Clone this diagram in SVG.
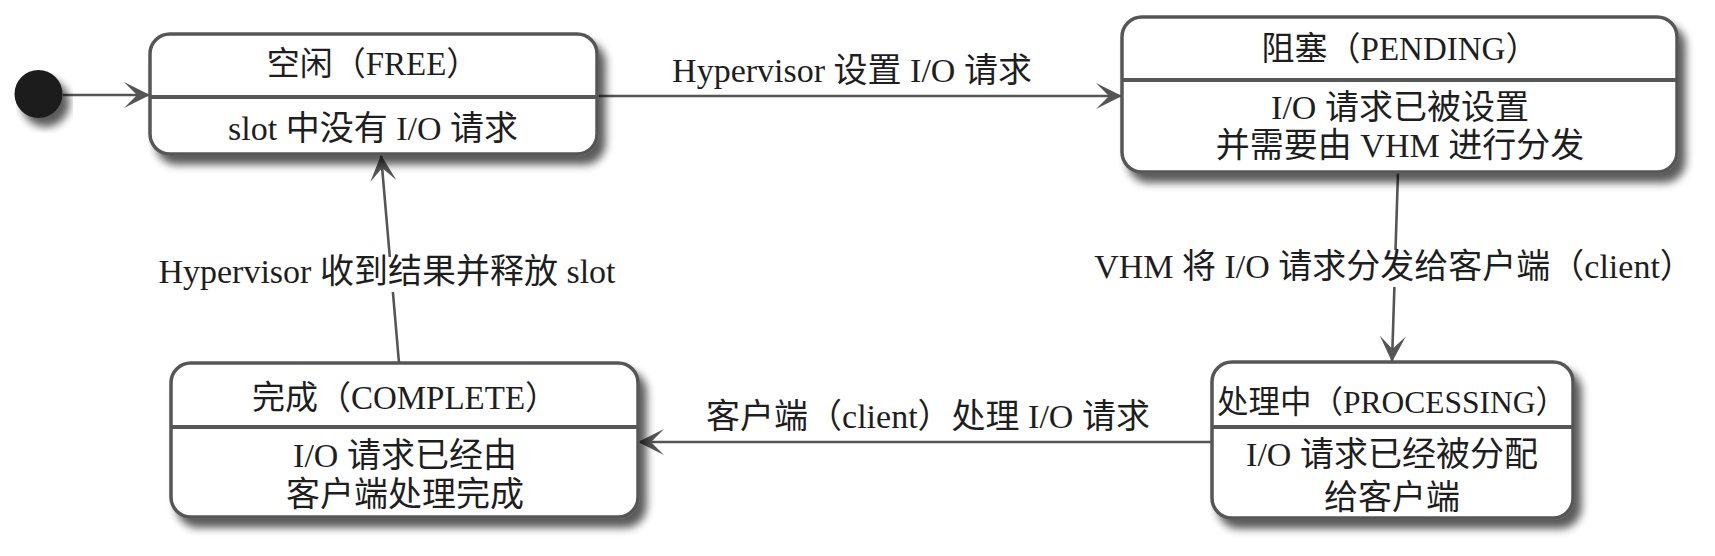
<svg xmlns="http://www.w3.org/2000/svg" width="1715" height="556" viewBox="0 0 1715 556">
<style>
.box{fill:#ffffff;stroke:#575757;stroke-width:3.5}
.div{stroke:#575757;stroke-width:4}
.t{font-family:"Liberation Serif","Noto Sans CJK SC",serif;font-size:33px;fill:#1e1e1e;text-anchor:middle}
.b{font-family:"Liberation Serif","Noto Sans CJK SC",serif;font-size:34px;fill:#1e1e1e;text-anchor:middle}
.lbl{font-family:"Liberation Serif","Noto Sans CJK SC",serif;font-size:34px;fill:#1e1e1e;text-anchor:middle}
.edge{fill:none;stroke:#555555;stroke-width:2.6}
</style>
<defs>
<filter id="sh" x="-10%" y="-10%" width="130%" height="140%">
<feGaussianBlur in="SourceAlpha" stdDeviation="4"/>
<feOffset dx="7" dy="9" result="b"/>
<feComponentTransfer><feFuncA type="linear" slope="0.65"/></feComponentTransfer>
<feMerge><feMergeNode/><feMergeNode in="SourceGraphic"/></feMerge>
</filter>
<marker id="arr" viewBox="0 0 26 26" refX="26" refY="13" markerWidth="26" markerHeight="26" markerUnits="userSpaceOnUse" orient="auto">
<path d="M0,0 L26,13 L0,26 L13,13 Z" fill="#555555"/>
</marker>
</defs>
<rect width="1715" height="556" fill="#ffffff"/>

<g id="connectors">
<path class="edge" d="M63,95 L150,95" marker-end="url(#arr)"/>
<path class="edge" d="M597,96 L1122,96" marker-end="url(#arr)"/>
<path class="edge" d="M1398,172 L1395.5,250 M1394.4,287 L1392,362" marker-end="url(#arr)"/>
<path class="edge" d="M1212,442 L638,442" marker-end="url(#arr)"/>
<path class="edge" d="M399,363 L392.9,292 M389.8,257 L381,155" marker-end="url(#arr)"/>
<text class="lbl" x="852" y="82">Hypervisor 设置 I/O 请求</text>
<text class="lbl" x="1394" y="278">VHM 将 I/O 请求分发给客户端（client）</text>
<text class="lbl" x="928" y="428">客户端（client）处理 I/O 请求</text>
<text class="lbl" x="387" y="283">Hypervisor 收到结果并释放 slot</text>
</g>

<g id="initial">
<circle cx="38.5" cy="94" r="24" fill="#1f1f1f" filter="url(#sh)"/>
</g>

<g id="free">
<rect class="box" x="150" y="34" width="447" height="120" rx="20" filter="url(#sh)"/>
<line class="div" x1="150" y1="97" x2="597" y2="97"/>
<text class="t" x="373" y="75">空闲（FREE）</text>
<text class="b" x="373" y="140">slot 中没有 I/O 请求</text>
</g>

<g id="pending">
<rect class="box" x="1122" y="17" width="555" height="155" rx="20" filter="url(#sh)"/>
<line class="div" x1="1122" y1="80" x2="1677" y2="80"/>
<text class="t" x="1400" y="60">阻塞（PENDING）</text>
<text class="b" x="1400" y="119">I/O 请求已被设置</text>
<text class="b" x="1400" y="157">并需要由 VHM 进行分发</text>
</g>

<g id="processing">
<rect class="box" x="1212" y="362" width="361" height="156" rx="20" filter="url(#sh)"/>
<line class="div" x1="1212" y1="427" x2="1573" y2="427"/>
<text class="t" x="1392" y="413" style="font-size:31.5px">处理中（PROCESSING）</text>
<text class="b" x="1392" y="466">I/O 请求已经被分配</text>
<text class="b" x="1392" y="509">给客户端</text>
</g>

<g id="complete">
<rect class="box" x="171" y="363" width="467" height="154" rx="20" filter="url(#sh)"/>
<line class="div" x1="171" y1="427" x2="638" y2="427"/>
<text class="t" x="405" y="409">完成（COMPLETE）</text>
<text class="b" x="405" y="467">I/O 请求已经由</text>
<text class="b" x="405" y="506">客户端处理完成</text>
</g>
</svg>
